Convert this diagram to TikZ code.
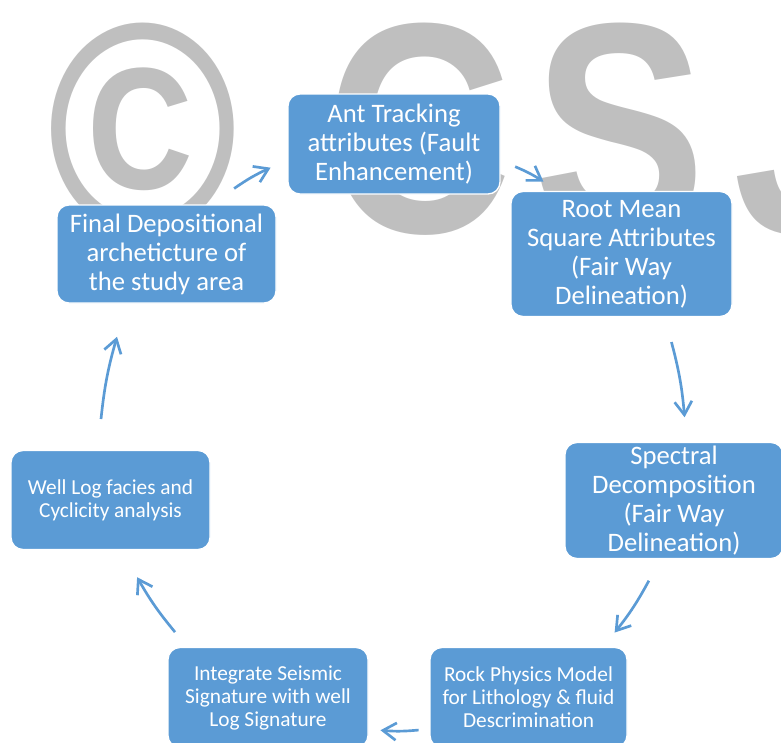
\documentclass[tikz,border=0pt]{standalone}
\usepackage{fontspec}
\setmainfont{Carlito}
\newfontfamily\markfont{Liberation Sans}
\usetikzlibrary{arrows.meta}
\definecolor{boxblue}{HTML}{5B9BD5}
\definecolor{markgray}{HTML}{BFBFBF}

\tikzset{
  stepbox/.style={draw=white, line width=1pt, fill=boxblue, rounded corners=9pt,
    text=white, align=center, inner sep=2pt, font=\fontsize{20}{21.75}\selectfont},
  smallbox/.style={stepbox, font=\fontsize{16}{17.25}\selectfont},
  markletter/.style={text=markgray, anchor=base west, inner sep=0pt,
    font=\markfont\bfseries\fontsize{194}{194}\selectfont},
  flow/.style={draw=boxblue, line width=2pt, -{Straight Barb[length=10pt,width=13pt]}},
}
\newcommand{\tallmark}[1]{\scalebox{1}[1.16]{#1}}

\begin{document}
\begin{tikzpicture}[x=0.75pt,y=0.75pt]
    \useasboundingbox (0,0) rectangle (781,-742);
    \clip (0,0) rectangle (781,-742);
    % Watermark
    \node[markletter] (copy) at (47,-232) {\tallmark{©}};
    \node[markletter] (markc) at (325,-232) {\tallmark{C}};
    \node[markletter] (marks) at (533,-232) {\tallmark{S}};
    \node[markletter] (markj) at (733,-232) {\tallmark{J}};
    % Steps of the cycle
    \node[stepbox, minimum width=159pt, minimum height=75pt] (ant) at (394,-144)
        {Ant Tracking\\attributes (Fault\\Enhancement)};
    \node[stepbox, minimum width=165.75pt, minimum height=93.75pt] (rms) at (621.5,-254)
        {Root Mean\\Square Attributes\\(Fair Way\\Delineation)};
    \node[stepbox, minimum width=163.5pt, minimum height=87pt] (spec) at (674,-500.5)
        {Spectral\\Decomposition\\(Fair Way\\Delineation)};
    \node[smallbox, minimum width=147.75pt, minimum height=75pt] (rock) at (528.5,-697.5)
        {Rock Physics Model\\for Lithology \& fluid\\Descrimination};
    \node[smallbox, minimum width=150pt, minimum height=75pt] (integ) at (268,-697.5)
        {Integrate Seismic\\Signature with well\\Log Signature};
    \node[smallbox, minimum width=149.25pt, minimum height=74.25pt] (well) at (110.5,-500)
        {Well Log facies and\\Cyclicity analysis};
    \node[stepbox, minimum width=164.25pt, minimum height=73.5pt] (final) at (166.5,-254)
        {Final Depositional\\archeticture of\\the study area};
    % Arrows between the steps
    \foreach \a/\b/\ps/\pe in {final/ant/0.35/0.52, ant/rms/0.47/0.60, rms/spec/0.38/0.69,
        spec/rock/0.32/0.58, rock/integ/0.42/0.57, integ/well/0.43/0.70, well/final/0.30/0.64}
    {
        \path (\a.center) to[bend left=26] coordinate[pos=\ps] (p1) coordinate[pos=\pe] (p2) (\b.center);
        \draw[flow] (p1) to[bend left=5] (p2);
    }
\end{tikzpicture}
\end{document}
